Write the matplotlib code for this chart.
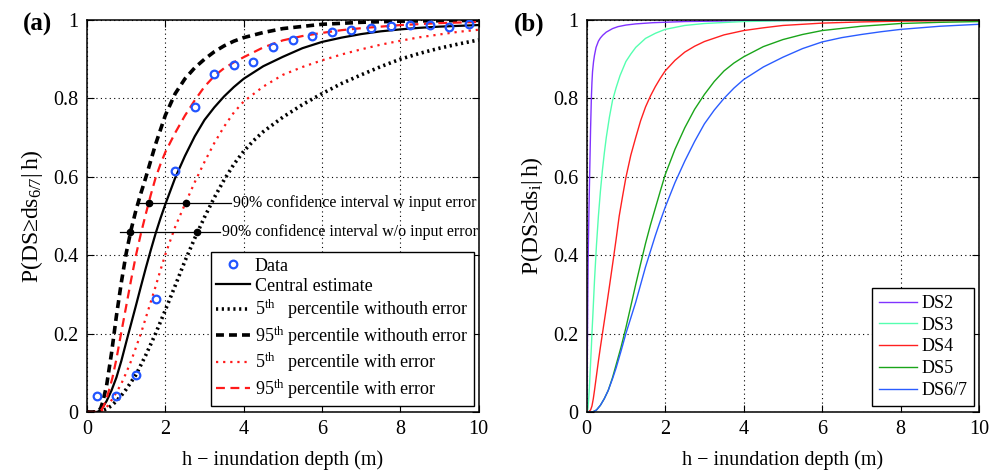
import matplotlib
matplotlib.use("Agg")
import matplotlib.pyplot as plt

plt.rcParams["font.family"] = ["Liberation Serif", "DejaVu Serif"]
plt.rcParams["mathtext.fontset"] = "custom"
plt.rcParams["mathtext.rm"] = "Liberation Serif"
plt.rcParams["mathtext.it"] = "Liberation Serif:italic"

# ---- panel (a) data ----
data_h = [0.25, 0.75, 1.25, 1.75, 2.25, 2.75, 3.25, 3.75, 4.25, 4.75,
          5.25, 5.75, 6.25, 6.75, 7.25, 7.75, 8.25, 8.75, 9.25, 9.75]
data_p = [0.04, 0.04, 0.094, 0.287, 0.616, 0.779, 0.863, 0.885, 0.893, 0.930,
          0.949, 0.960, 0.969, 0.974, 0.980, 0.985, 0.986, 0.988, 0.982, 0.989]

central_h = [0, 0.25, 0.35, 0.5, 0.625, 0.75, 0.875, 1, 1.125, 1.25, 1.375,
             1.5, 1.625, 1.75, 1.875, 2, 2.25, 2.5, 2.75, 3, 3.25, 3.5, 3.75,
             4, 4.5, 5, 5.5, 6, 6.5, 7, 7.5, 8, 8.5, 9, 9.5, 10]
central_p = [0, 0, 0.004, 0.028, 0.055, 0.088, 0.13, 0.178, 0.225, 0.272,
             0.32, 0.367, 0.412, 0.455, 0.494, 0.53, 0.597, 0.653, 0.703,
             0.745, 0.777, 0.805, 0.829, 0.85, 0.882, 0.906, 0.928, 0.944,
             0.955, 0.964, 0.971, 0.976, 0.980, 0.983, 0.985, 0.987]

p5_h = [0, 0.3, 0.5, 0.625, 0.75, 0.875, 1, 1.25, 1.5, 1.75, 2, 2.25, 2.5,
        2.75, 3, 3.25, 3.5, 3.75, 4, 4.25, 4.5, 5, 5.5, 6, 6.5, 7, 7.5, 8,
        8.5, 9, 9.5, 10]
p5_p = [0, 0, 0.008, 0.016, 0.028, 0.042, 0.058, 0.095, 0.145, 0.2, 0.26,
        0.322, 0.385, 0.443, 0.497, 0.547, 0.592, 0.632, 0.665, 0.692, 0.715,
        0.752, 0.784, 0.812, 0.838, 0.86, 0.881, 0.9, 0.915, 0.928, 0.939,
        0.949]

p95_h = [0, 0.25, 0.3, 0.35, 0.4, 0.5, 0.625, 0.75, 0.875, 1, 1.125, 1.25,
         1.375, 1.5, 1.75, 2, 2.25, 2.5, 2.75, 3, 3.25, 3.5, 3.75, 4, 4.5, 5,
         6, 7, 8, 9, 10]
p95_p = [0, 0, 0.003, 0.01, 0.025, 0.068, 0.15, 0.245, 0.33, 0.405, 0.465,
         0.515, 0.558, 0.598, 0.683, 0.757, 0.812, 0.85, 0.878, 0.9, 0.919,
         0.934, 0.946, 0.955, 0.968, 0.978, 0.989, 0.994, 0.997, 0.998, 0.999]

p5e_h = [0, 0.3, 0.4, 0.5, 0.625, 0.75, 0.875, 1, 1.125, 1.25, 1.375, 1.5,
         1.625, 1.75, 1.875, 2, 2.25, 2.5, 2.75, 3, 3.25, 3.5, 3.75, 4, 4.5,
         5, 5.5, 6, 6.5, 7, 7.5, 8, 8.5, 9, 9.5, 10]
p5e_p = [0, 0, 0.004, 0.012, 0.03, 0.05, 0.072, 0.1, 0.13, 0.165, 0.2, 0.24,
         0.28, 0.32, 0.362, 0.402, 0.472, 0.53, 0.586, 0.638, 0.686, 0.728,
         0.764, 0.792, 0.83, 0.86, 0.88, 0.897, 0.912, 0.925, 0.937, 0.947,
         0.956, 0.963, 0.97, 0.975]

p95e_h = [0, 0.3, 0.35, 0.425, 0.5, 0.575, 0.65, 0.75, 0.85, 1, 1.125, 1.25,
          1.375, 1.5, 1.625, 1.75, 1.875, 2, 2.25, 2.5, 2.75, 3, 3.25, 3.5,
          3.75, 4, 4.5, 5, 5.5, 6, 6.5, 7, 8, 9, 10]
p95e_p = [0, 0, 0.003, 0.015, 0.035, 0.06, 0.088, 0.135, 0.19, 0.27, 0.337,
          0.4, 0.455, 0.505, 0.553, 0.597, 0.632, 0.663, 0.712, 0.756, 0.795,
          0.83, 0.857, 0.877, 0.892, 0.905, 0.93, 0.948, 0.959, 0.967, 0.974,
          0.979, 0.987, 0.992, 0.995]

# confidence interval markers
ci_w_level = 0.532
ci_w_span = [1.28, 3.67]
ci_w_dots = [1.58, 2.52]
ci_wo_level = 0.458
ci_wo_span = [0.84, 3.40]
ci_wo_dots = [1.10, 2.82]

# ---- panel (b) data ----
ds2_h = [0, 0.01, 0.02, 0.03, 0.04, 0.05, 0.06, 0.07, 0.08, 0.09, 0.1, 0.11,
         0.12, 0.135, 0.15, 0.175, 0.2, 0.24, 0.3, 0.35, 0.41, 0.5, 0.66, 0.8,
         1, 1.25, 1.68, 2.5, 4, 6, 10]
ds2_p = [0, 0.05, 0.17, 0.3, 0.4, 0.46, 0.52, 0.57, 0.62, 0.67, 0.72, 0.76,
         0.8, 0.84, 0.868, 0.893, 0.91, 0.93, 0.946, 0.954, 0.961, 0.969,
         0.978, 0.983, 0.987, 0.99, 0.993, 0.996, 0.998, 0.999, 1.0]
ds3_h = [0, 0.02, 0.03, 0.04, 0.05, 0.07, 0.085, 0.1, 0.12, 0.135, 0.16, 0.2,
         0.25, 0.3, 0.35, 0.4, 0.45, 0.5, 0.58, 0.66, 0.75, 0.85, 1, 1.125,
         1.25, 1.5, 1.75, 2, 2.5, 3, 4, 5, 6, 10]
ds3_p = [0, 0.002, 0.008, 0.017, 0.03, 0.063, 0.093, 0.124, 0.165, 0.2, 0.25,
         0.335, 0.425, 0.5, 0.562, 0.615, 0.66, 0.70, 0.752, 0.795, 0.827,
         0.858, 0.894, 0.913, 0.93, 0.953, 0.966, 0.976, 0.986, 0.991, 0.996,
         0.998, 0.999, 1.0]
ds4_h = [0, 0.05, 0.1, 0.135, 0.17, 0.2, 0.24, 0.3, 0.35, 0.41, 0.5, 0.58,
         0.68, 0.75, 0.83, 0.915, 1, 1.125, 1.25, 1.375, 1.5, 1.625, 1.75,
         1.875, 2, 2.25, 2.5, 2.75, 3, 3.5, 4, 4.5, 5, 6, 7, 8, 10]
ds4_p = [0, 0.0005, 0.005, 0.015, 0.034, 0.055, 0.085, 0.13, 0.165, 0.205,
         0.265, 0.32, 0.39, 0.44, 0.5, 0.55, 0.598, 0.655, 0.7, 0.743, 0.778,
         0.806, 0.83, 0.851, 0.87, 0.897, 0.918, 0.933, 0.945, 0.962, 0.973,
         0.98, 0.986, 0.992, 0.995, 0.997, 0.999]
ds5_h = [0, 0.15, 0.25, 0.35, 0.45, 0.55, 0.66, 0.75, 0.875, 1, 1.125, 1.25,
         1.375, 1.5, 1.625, 1.75, 1.875, 2, 2.25, 2.5, 2.75, 3, 3.25, 3.5,
         3.75, 4, 4.5, 5, 5.5, 6, 7, 8, 9, 10]
ds5_p = [0, 0, 0.005, 0.017, 0.034, 0.055, 0.088, 0.12, 0.165, 0.215, 0.27,
         0.325, 0.378, 0.43, 0.477, 0.52, 0.563, 0.605, 0.67, 0.725, 0.772,
         0.81, 0.843, 0.87, 0.89, 0.906, 0.932, 0.95, 0.963, 0.973, 0.984,
         0.991, 0.994, 0.996]
ds67_h = [0, 0.15, 0.25, 0.35, 0.45, 0.55, 0.66, 0.75, 0.875, 1, 1.125, 1.25,
          1.375, 1.5, 1.625, 1.75, 1.875, 2, 2.25, 2.5, 2.75, 3, 3.25, 3.5,
          3.75, 4, 4.5, 5, 5.5, 6, 6.5, 7, 7.5, 8, 9, 10]
ds67_p = [0, 0, 0.005, 0.017, 0.034, 0.055, 0.085, 0.112, 0.155, 0.2, 0.24,
          0.28, 0.325, 0.37, 0.41, 0.45, 0.487, 0.522, 0.585, 0.64, 0.69,
          0.735, 0.77, 0.8, 0.826, 0.848, 0.88, 0.905, 0.927, 0.944, 0.955,
          0.963, 0.97, 0.976, 0.984, 0.989]

ds_labels = ["DS2", "DS3", "DS4", "DS5", "DS6/7"]
ds_colors = ["#8033ff", "#55ffb0", "#ff2020", "#1aa51a", "#2a5cff"]

ticks_x = [0, 2, 4, 6, 8, 10]
ticks_y = [0, 0.2, 0.4, 0.6, 0.8, 1]
ticklabels_y = ["0", "0.2", "0.4", "0.6", "0.8", "1"]

FS = 14.5

fig = plt.figure(figsize=(10.04, 4.71), dpi=100)
ax1 = fig.add_axes([0.0867, 0.1253, 0.390, 0.8323])
ax2 = fig.add_axes([0.5843, 0.1253, 0.391, 0.8323])


def style_axes(ax):
    ax.set_xlim(0, 10)
    ax.set_ylim(0, 1)
    ax.set_xticks(ticks_x)
    ax.set_yticks(ticks_y)
    ax.set_yticklabels(ticklabels_y)
    ax.tick_params(direction="in", length=5, width=0.8, top=True, right=True,
                   labelsize=FS, pad=6)
    ax.grid(True, color="black", linestyle=(0, (1, 3)), linewidth=0.8)
    for sp in ax.spines.values():
        sp.set_linewidth(1.1)
    ax.set_xlabel("h \u2212 inundation depth (m)", fontsize=FS, labelpad=8)


style_axes(ax1)
ax1.plot(data_h, data_p, "o", mfc="none", mec="#2255ff", mew=1.6, ms=5.5,
         label="Data", zorder=5)
ax1.plot(central_h, central_p, "k-", lw=1.6, label="Central estimate")
ax1.plot(p5_h, p5_p, color="black", lw=2.6, linestyle=(0, (0.6, 1.0)),
         label=r"5$^{\mathrm{th}}$   percentile withouth error")
ax1.plot(p95_h, p95_p, color="black", lw=2.6, linestyle=(0, (2.2, 1.4)),
         label=r"95$^{\mathrm{th}}$ percentile withouth error")
ax1.plot(p5e_h, p5e_p, color="#ff1a1a", lw=1.6, linestyle=(0, (1, 2.2)),
         label=r"5$^{\mathrm{th}}$   percentile with error")
ax1.plot(p95e_h, p95e_p, color="#ff1a1a", lw=1.6, linestyle=(0, (4, 2.5)),
         label=r"95$^{\mathrm{th}}$ percentile with error")

ax1.plot(ci_w_span, [ci_w_level] * 2, "k-", lw=0.9)
ax1.plot(ci_w_dots, [ci_w_level] * 2, "ko", ms=4.5)
ax1.text(ci_w_span[1] + 0.06, ci_w_level, "90% confidence interval w input error",
         fontsize=11.5, va="center", ha="left")
ax1.plot(ci_wo_span, [ci_wo_level] * 2, "k-", lw=0.9)
ax1.plot(ci_wo_dots, [ci_wo_level] * 2, "ko", ms=4.5)
ax1.text(ci_wo_span[1] + 0.05, ci_wo_level, "90% confidence interval w/o input error",
         fontsize=11.5, va="center", ha="left")

leg1 = ax1.legend(loc="lower right", bbox_to_anchor=(0.988, 0.015),
                  borderaxespad=0, fontsize=13, handlelength=1.9,
                  handletextpad=0.25, labelspacing=0.17, borderpad=0.3,
                  fancybox=False, framealpha=1, edgecolor="black")
leg1.get_frame().set_linewidth(1.0)
ax1.set_ylabel(r"P(DS≥ds$_{6/7}$|$\,$h)", fontsize=17, labelpad=6)

style_axes(ax2)
series_b = [(ds2_h, ds2_p), (ds3_h, ds3_p), (ds4_h, ds4_p), (ds5_h, ds5_p),
            (ds67_h, ds67_p)]
for (hh, pp), lab, col in zip(series_b, ds_labels, ds_colors):
    ax2.plot(hh, pp, color=col, lw=1.0, label=lab)
leg2 = ax2.legend(loc="lower right", bbox_to_anchor=(0.988, 0.015),
                  borderaxespad=0, fontsize=13, handlelength=2.1,
                  handletextpad=0.25, labelspacing=0.26, borderpad=0.4,
                  fancybox=False, framealpha=1, edgecolor="black")
leg2.get_frame().set_linewidth(1.0)
ax2.set_ylabel(r"P(DS≥ds$_{\mathrm{i}}$|$\,$h)", fontsize=17, labelpad=6)

fig.text(0.037, 0.949, "(a)", fontsize=18, fontweight="bold", ha="center", va="center")
fig.text(0.527, 0.949, "(b)", fontsize=18, fontweight="bold", ha="center", va="center")

fig.savefig("out.png", dpi=100)
